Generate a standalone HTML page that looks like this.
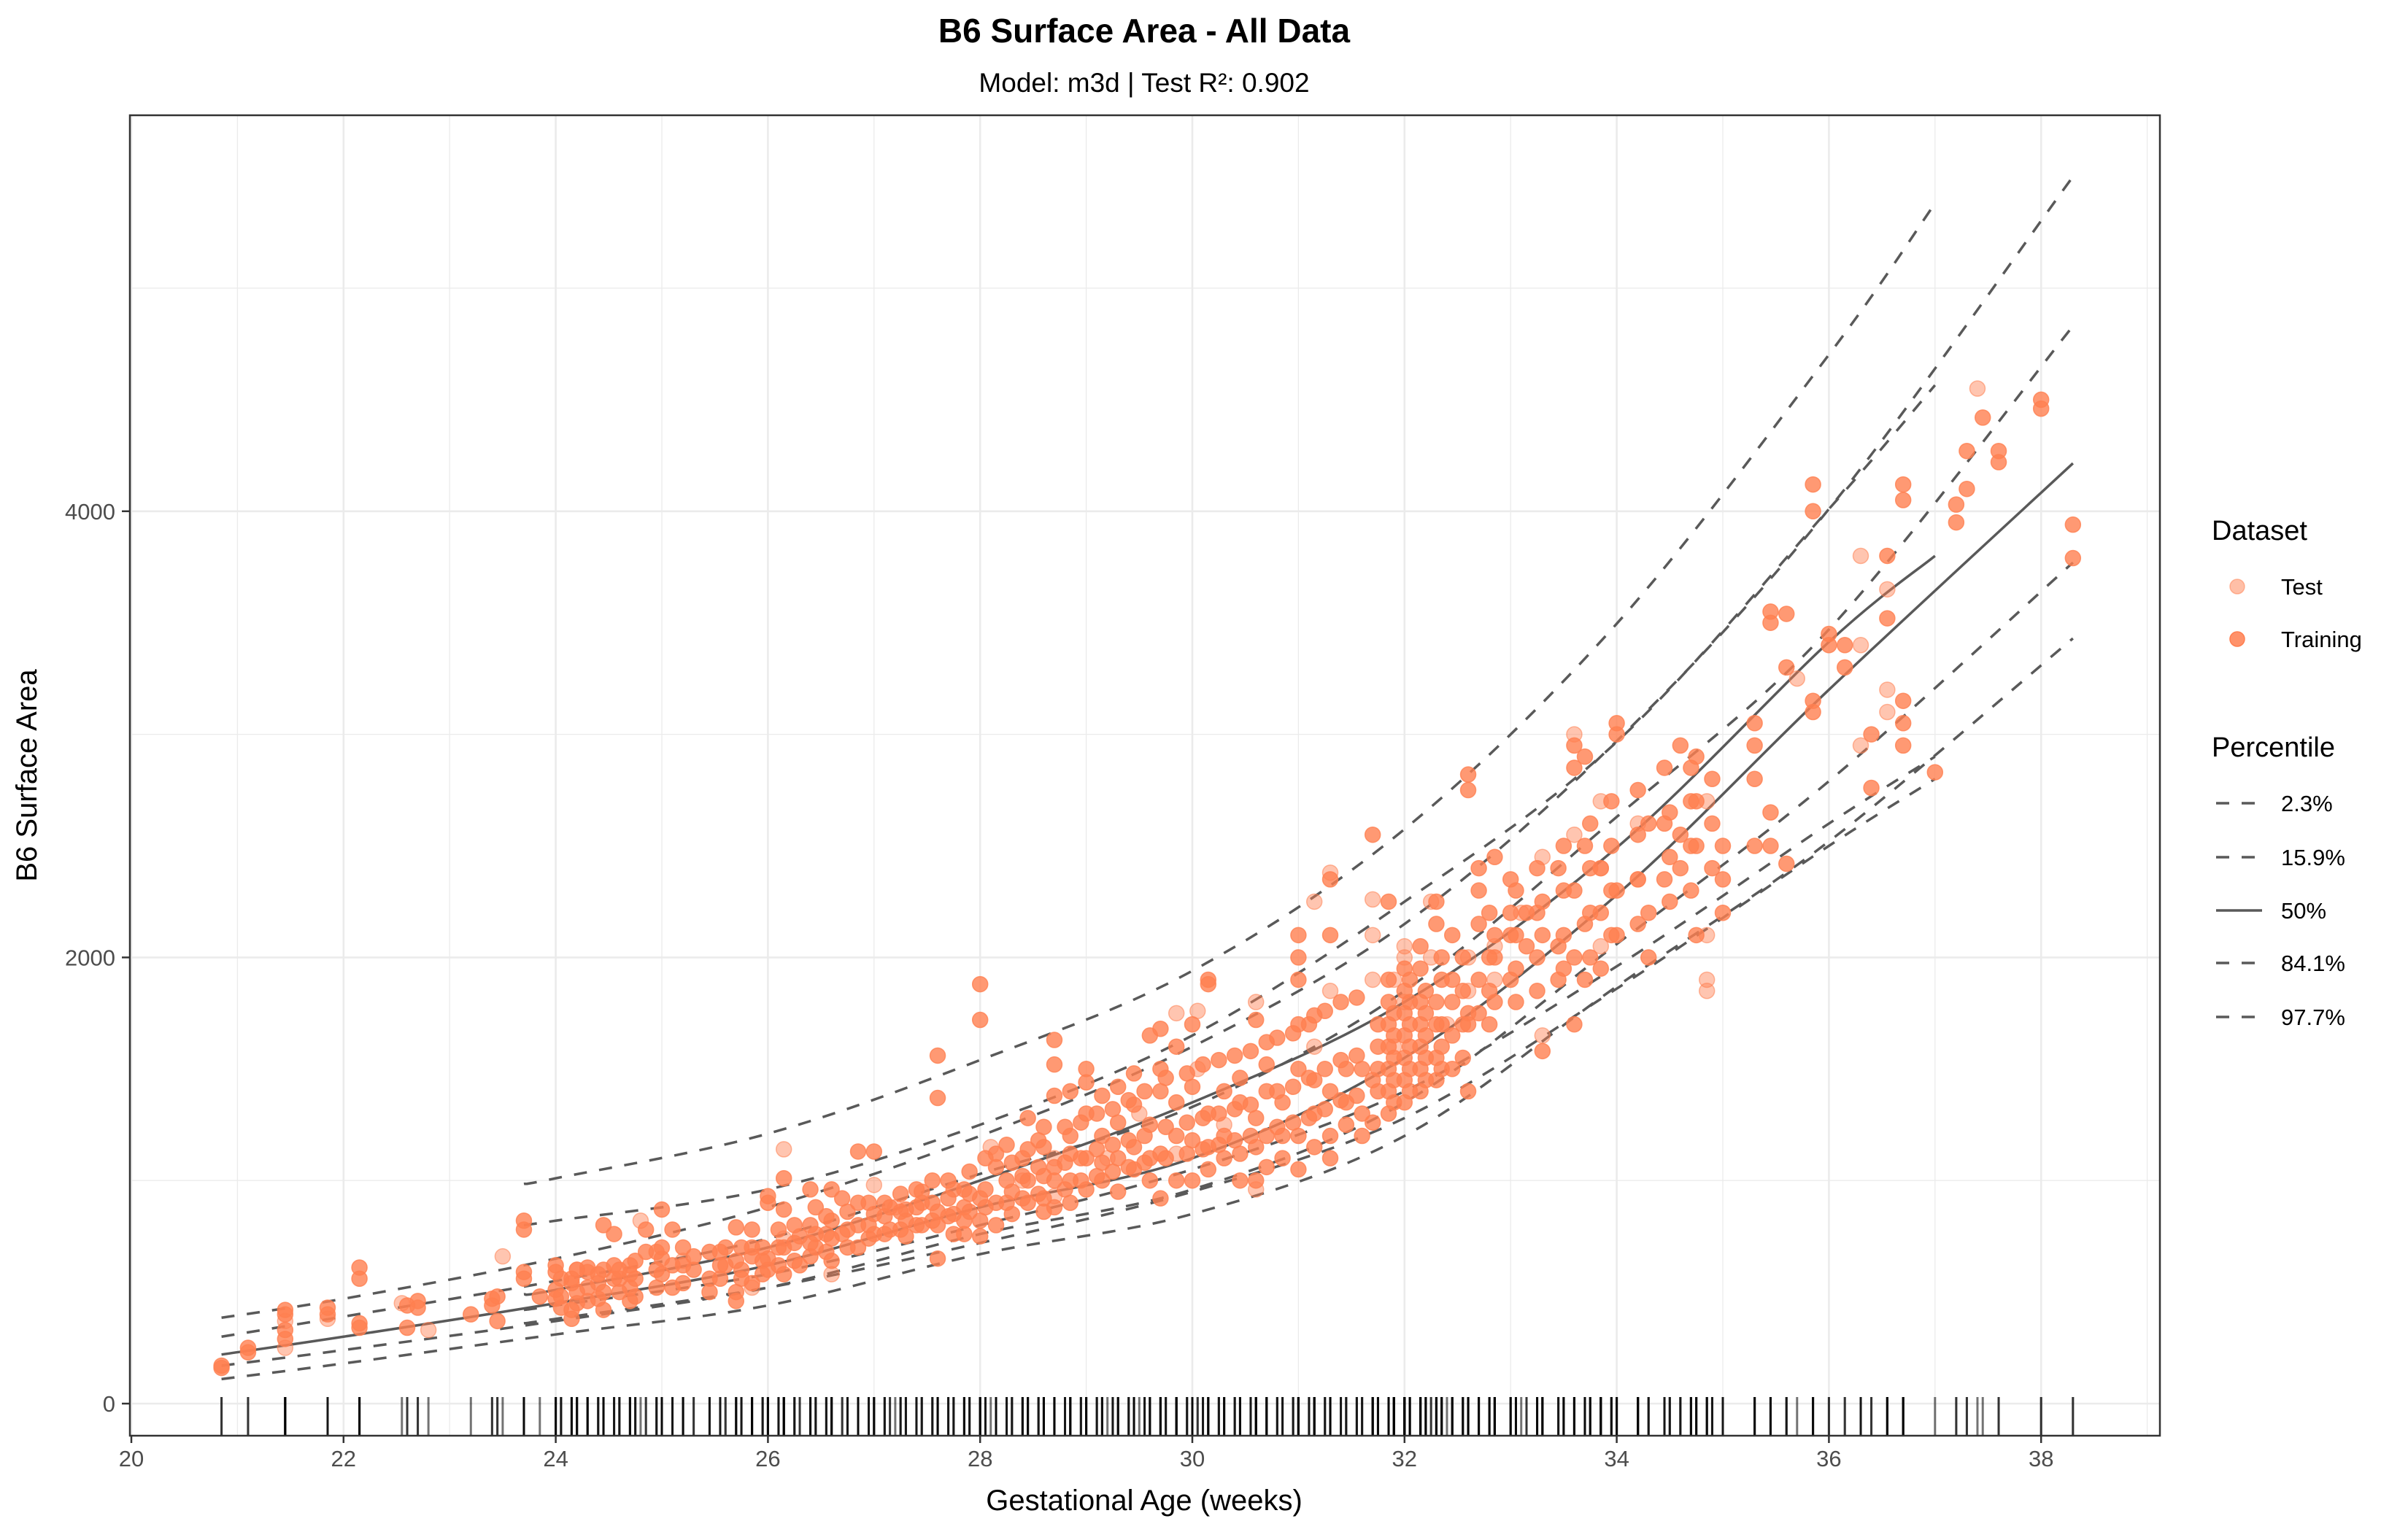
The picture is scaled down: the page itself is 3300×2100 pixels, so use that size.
<!DOCTYPE html>
<html><head><meta charset="utf-8">
<style>
html,body{margin:0;padding:0;background:#fff;}
svg{display:block;font-family:"Liberation Sans",Arial,sans-serif;}
</style></head>
<body>
<svg id="chart" width="3300" height="2100" viewBox="0 0 3300 2100">
<rect x="0" y="0" width="3300" height="2100" fill="#fff"/>
<g id="grid"></g>
<g id="curves"></g>
<g id="pts"></g>
<g id="rug"></g>
<rect x="178" y="158" width="2782" height="1810" fill="none" stroke="#333" stroke-width="2.5"/>
<g id="axes"></g>
<text x="1568" y="58" text-anchor="middle" font-size="46" font-weight="bold" fill="#000">B6 Surface Area - All Data</text>
<text x="1568" y="126" text-anchor="middle" font-size="37" fill="#000">Model: m3d | Test R²: 0.902</text>
<text x="1568" y="2070" text-anchor="middle" font-size="40" fill="#000">Gestational Age (weeks)</text>
<text transform="translate(50,1063) rotate(-90)" text-anchor="middle" font-size="40" fill="#000">B6 Surface Area</text>
<g>
<text x="3031" y="740" font-size="38" fill="#000">Dataset</text>
<g><circle cx="3066" cy="804" r="10" fill="#FF7F50" fill-opacity="0.5" stroke="#FF7F50" stroke-opacity="0.5" stroke-width="1.5"/><text x="3126" y="815" font-size="31" fill="#000">Test</text></g>
<g><circle cx="3066" cy="876" r="10" fill="#FF7F50" fill-opacity="0.85" stroke="#FF7F50" stroke-width="1.5"/><text x="3126" y="887" font-size="31" fill="#000">Training</text></g>
</g>
<g>
<text x="3031" y="1037" font-size="38" fill="#000">Percentile</text>
<g><line x1="3037" y1="1101" x2="3100" y2="1101" stroke="#595959" stroke-width="3.5" stroke-dasharray="18,17"/><text x="3126" y="1112" font-size="31">2.3%</text></g>
<g><line x1="3037" y1="1175" x2="3100" y2="1175" stroke="#595959" stroke-width="3.5" stroke-dasharray="18,17"/><text x="3126" y="1186" font-size="31">15.9%</text></g>
<g><line x1="3037" y1="1248" x2="3100" y2="1248" stroke="#595959" stroke-width="3.5"/><text x="3126" y="1259" font-size="31">50%</text></g>
<g><line x1="3037" y1="1320" x2="3100" y2="1320" stroke="#595959" stroke-width="3.5" stroke-dasharray="18,17"/><text x="3126" y="1331" font-size="31">84.1%</text></g>
<g><line x1="3037" y1="1394" x2="3100" y2="1394" stroke="#595959" stroke-width="3.5" stroke-dasharray="18,17"/><text x="3126" y="1405" font-size="31">97.7%</text></g>
</g>
</svg>
<script>
// ---- data ----
const xTicks = [20,22,24,26,28,30,32,34,36,38];
const yTicks = [0,2000,4000];
const curveAx = [20.85,22,24,26,28,30,32,34,36,38.3];
const curveA023 = [110,180,310,440,670,850,1200,1870,2520,3430];
const curveA159 = [170,240,370,520,760,960,1350,2060,2790,3770];
const curveA500 = [220,300,450,620,880,1100,1550,2280,3200,4215];
const curveA841 = [300,390,550,740,1030,1330,1850,2630,3470,4830];
const curveA977 = [385,470,650,880,1200,1600,2150,2970,4010,5500];
const curveBx = [23.7,24,26,28,30,32,34,36,37];
const curveB023 = [360,380,520,720,950,1280,1860,2500,2800];
const curveB159 = [420,440,580,800,1050,1400,1960,2600,2900];
const curveB500 = [490,510,700,1000,1350,1800,2492,3414,3800];
const curveB841 = [800,820,960,1250,1650,2250,2966,4010,4565];
const curveB977 = [985,1010,1210,1540,1940,2575,3496,4702,5380];
const trainCols = ["20.85:160,170","21.1:230,250","21.45:290,330,400,420","21.85:400,430","22.15:340,360,560,610","22.6:340,440","22.7:430,460","23.2:400","23.4:440,470","23.45:370,480","23.7:560,590,780,820","23.85:480","24.0:590,620,470,510","24.15:380,420,540,560","24.3:460,520,590,610","24.45:420,500,600,800","24.55:560,620,760","24.7:460,520,580,620","24.85:680,780","25.0:580,650,700,870","25.1:520,620,780","25.3:600,660","25.45:500,560,680","25.6:620,700","25.7:460,500,640,790","25.85:540,660,700,780","26.0:600,650,900,930","26.15:580,700,870,1010","26.3:620,750","26.45:700,760,880","26.6:640,740,820,960","26.7:760,920","26.85:700,800,900,1130","27.0:760,850,1130","27.15:780,880","27.3:820,870,750","27.45:800,900,950","27.6:650,800,860,1370,1560","27.75:760,850,960","27.85:760,820,880,960","28.0:750,820,920,1720,1880","28.15:800,900,1060,1120","28.3:850,950,1080","28.45:900,1000,1140,1280","28.6:860,920,1020,1150,1240","28.7:880,1000,1060,1380,1520,1630","28.85:900,1000,1120,1200,1400","29.0:960,1100,1300,1440,1500","29.15:1000,1080,1200,1380","29.3:950,1100,1260,1420","29.45:1050,1150,1340,1480","29.6:1000,1100,1250,1650","29.7:920,1120,1400,1500,1680","29.85:1000,1200,1350,1600","30.0:1000,1180,1420,1700","30.15:1050,1150,1300,1880,1900","30.3:1100,1200,1400","30.45:1000,1120,1350,1460","30.6:1000,1150,1280,1720","30.7:1060,1200,1400,1520,1620","30.85:1100,1200,1350","31.0:1050,1200,1500,1700,1900,2000,2100","31.15:1150,1300,1450,1740","31.3:1100,1200,1400,2100,2350","31.45:1250,1350,1500","31.6:1200,1300,1500","31.7:1260,1450,2550","31.85:1300,1400,1500,1600,1700,1800,1900,2250","32.0:1350,1450,1550,1650,1750,1850,1950","32.15:1400,1500,1600,1700,1800,1950,2050","32.3:1450,1550,1700,1800,2150,2250","32.45:1500,1650,1800,1900,2100","32.6:1400,1700,1750,2750,2820","32.7:1750,1900,2150,2300,2400","32.85:1800,2000,2100,2450","33.0:1900,2100,2200,2350","33.15:2050,2200","33.3:1580,2100,2250","33.45:1900,2050,2400","33.6:1700,2000,2300,2850,2950","33.7:1900,2150,2500,2900","33.85:1950,2200,2400","34.0:2100,2300,3000,3050","34.3:2000,2200,2600","34.45:2350,2600,2850","34.6:2400,2550,2950","34.75:2100,2500,2700,2900","35.0:2200,2350,2500","35.3:2500,2800,2950,3050","35.45:2500,2650,3500,3550","35.6:2420,3300,3540","35.85:3150,3100,4000,4120","36.0:3400,3450","36.15:3300,3400","36.4:2760,3000","36.55:3520,3800","36.7:2950,3050,3150,4050,4120","37.0:2830","37.2:3950,4030","37.3:4100,4270","37.45:4420","37.6:4220,4270","38.0:4460,4500","38.3:3790,3940"];
const trainCols2 = ["24.05:430,480,560","24.2:450,500,600","24.4:470,540,580","24.6:500,560,600","24.75:480,560,640","24.95:520,600,680","25.2:540,620,700","25.55:560,620,680","25.75:560,600,700","25.95:580,640,700","26.1:620,700,780","26.25:640,720,800","26.4:660,720,800,960","26.55:680,760,840","26.75:700,780,860","26.95:740,800,900","27.1:760,840,900","27.25:780,860,940","27.4:800,880,960","27.55:820,900,1000","27.7:840,920,1000","27.9:860,940,1040","28.05:880,960,1100","28.25:900,1000,1160","28.4:920,1020,1100","28.55:940,1060,1180","28.8:960,1080,1240","28.95:1000,1100,1260","29.1:1020,1140,1300","29.25:1040,1160,1320","29.4:1060,1180,1360","29.55:1080,1200,1400","29.75:1100,1240,1460","29.95:1120,1260,1480","30.1:1140,1280,1520","30.25:1160,1300,1540","30.4:1180,1320,1560","30.55:1200,1340,1580","30.8:1240,1400,1640","30.95:1260,1420,1660","31.1:1280,1460,1700","31.25:1320,1500,1760","31.4:1360,1540,1800","31.55:1380,1560,1820","31.75:1400,1500,1600,1700","31.9:1350,1450,1550,1650,1750","32.05:1400,1500,1600,1700,1800,1900","32.2:1450,1550,1650,1750,1850","32.35:1500,1600,1700,1900,2000","32.55:1550,1700,1850,2000","32.8:1700,1850,2000,2200","33.05:1800,1950,2100,2300","33.25:1850,2000,2200,2400","33.5:1950,2100,2300,2500","33.75:2000,2200,2400,2600","33.95:2100,2300,2500,2700","34.2:2150,2350,2550,2750","34.5:2250,2450,2650","34.7:2300,2500,2700,2850","34.9:2400,2600,2800"];
const testCols = ["21.45:250,370","21.85:380","22.55:450","22.8:330","23.5:660","24.2:600","24.8:820","25.85:520","26.15:740,1140","26.6:580","27.2:880","28.1:1150","28.7:930,1100","29.2:1100","29.85:1120,1750","30.05:1500,1760","30.6:960,1800","31.15:1600,2250","31.3:2380,1850","31.7:1900,2100,2260","32.0:1800,2050,2000","32.25:2250,2000","32.6:1850,2000","32.85:1900,2050","33.3:1650,2450","33.6:2550,3000","33.85:2050,2400,2700","34.2:2350,2600","34.85:1850,1900,2100,2700","35.7:3250","36.3:2950,3400,3800","36.55:3100,3200,3650","37.4:4550","25.2:640","27.0:980","28.4:1000","29.5:1300","30.3:1250","31.9:1600,1900","32.4:1700","33.1:2200"];

// ---- scales ----
const X0=180, PXW=145.4, Y0=1924, PXV=0.3058;
const PL=178, PR=2960, PT=158, PB=1968;
function sx(v){return X0+(v-20)*PXW;}
function sy(v){return Y0-v*PXV;}
const NS="http://www.w3.org/2000/svg";
function mk(tag,attrs,parent){const e=document.createElementNS(NS,tag);for(const k in attrs)e.setAttribute(k,attrs[k]);parent.appendChild(e);return e;}

// grid
const grid=document.getElementById('grid');
for(let w=20;w<=39;w++){
  const gl=mk('line',{x1:sx(w),x2:sx(w),y1:PT,y2:PB,stroke:'#ebebeb','stroke-width':(w%2===0?2.6:1.3)},grid);
  
  
}
for(let v=0;v<=5000;v+=1000){
  const gl=mk('line',{x1:PL,x2:PR,y1:sy(v),y2:sy(v),stroke:'#ebebeb','stroke-width':(v%2000===0?2.6:1.3)},grid);
  
  
}

// axes ticks and labels
const axes=document.getElementById('axes');
xTicks.forEach(t=>{
  const tk=mk('line',{x1:sx(t),x2:sx(t),y1:PB,y2:PB+10,stroke:'#333','stroke-width':2.5},axes);
  
  
  const lb=mk('text',{x:sx(t),y:PB+42,'text-anchor':'middle','font-size':31,fill:'#4d4d4d'},axes);
  lb.textContent=t;
  
  
});
yTicks.forEach(t=>{
  const tk=mk('line',{x1:PL-11,x2:PL,y1:sy(t),y2:sy(t),stroke:'#333','stroke-width':2.5},axes);
  
  
  const lb=mk('text',{x:PL-20,y:sy(t)+11,'text-anchor':'end','font-size':31,fill:'#4d4d4d'},axes);
  lb.textContent=t;
  
  
});

// points
function parseCols(cols){const out=[];cols.forEach(c=>{const [x,ys]=c.split(':');ys.split(',').forEach(y=>out.push([+x,+y]));});return out;}
const train=parseCols(trainCols.concat(trainCols2)), test=parseCols(testCols);
const pts=document.getElementById('pts');
train.forEach(p=>{
  const c=mk('circle',{cx:sx(p[0]),cy:sy(p[1]),r:10.5,fill:'#FF7F50','fill-opacity':0.8,stroke:'#FF7F50','stroke-opacity':0.8,'stroke-width':1.5},pts);
  
  
});
test.forEach(p=>{
  const c=mk('circle',{cx:sx(p[0]),cy:sy(p[1]),r:10.5,fill:'#FF7F50','fill-opacity':0.45,stroke:'#FF7F50','stroke-opacity':0.55,'stroke-width':1.5},pts);
  
  
});

// rug
const rug=document.getElementById('rug');
train.concat(test).forEach(p=>{
  const l=mk('line',{x1:sx(p[0]),x2:sx(p[0]),y1:PB-53,y2:PB,stroke:'#000','stroke-opacity':0.55,'stroke-width':3},rug);
  
  
});

// curves (Catmull-Rom smoothing)
function pathFor(xs,ys){
  const P=xs.map((x,i)=>[sx(x),sy(ys[i])]);
  let d='M'+P[0][0]+','+P[0][1];
  for(let i=0;i<P.length-1;i++){
    const p0=P[Math.max(0,i-1)],p1=P[i],p2=P[i+1],p3=P[Math.min(P.length-1,i+2)];
    const c1=[p1[0]+(p2[0]-p0[0])/6,p1[1]+(p2[1]-p0[1])/6];
    const c2=[p2[0]-(p3[0]-p1[0])/6,p2[1]-(p3[1]-p1[1])/6];
    d+=' C'+c1[0]+','+c1[1]+' '+c2[0]+','+c2[1]+' '+p2[0]+','+p2[1];
  }
  return d;
}
const curves=document.getElementById('curves');
[[curveAx,curveA023,'a-2-3',1],[curveAx,curveA159,'a-15-9',1],[curveAx,curveA500,'a-50',0],[curveAx,curveA841,'a-84-1',1],[curveAx,curveA977,'a-97-7',1],
 [curveBx,curveB023,'b-2-3',1],[curveBx,curveB159,'b-15-9',1],[curveBx,curveB500,'b-50',0],[curveBx,curveB841,'b-84-1',1],[curveBx,curveB977,'b-97-7',1]].forEach(c=>{
  const attrs={d:pathFor(c[0],c[1]),fill:'none',stroke:'#595959','stroke-width':3.5};
  if(c[3])attrs['stroke-dasharray']='18,17';
  const p=mk('path',attrs,curves);
  
  
});
</script>
</body></html>
